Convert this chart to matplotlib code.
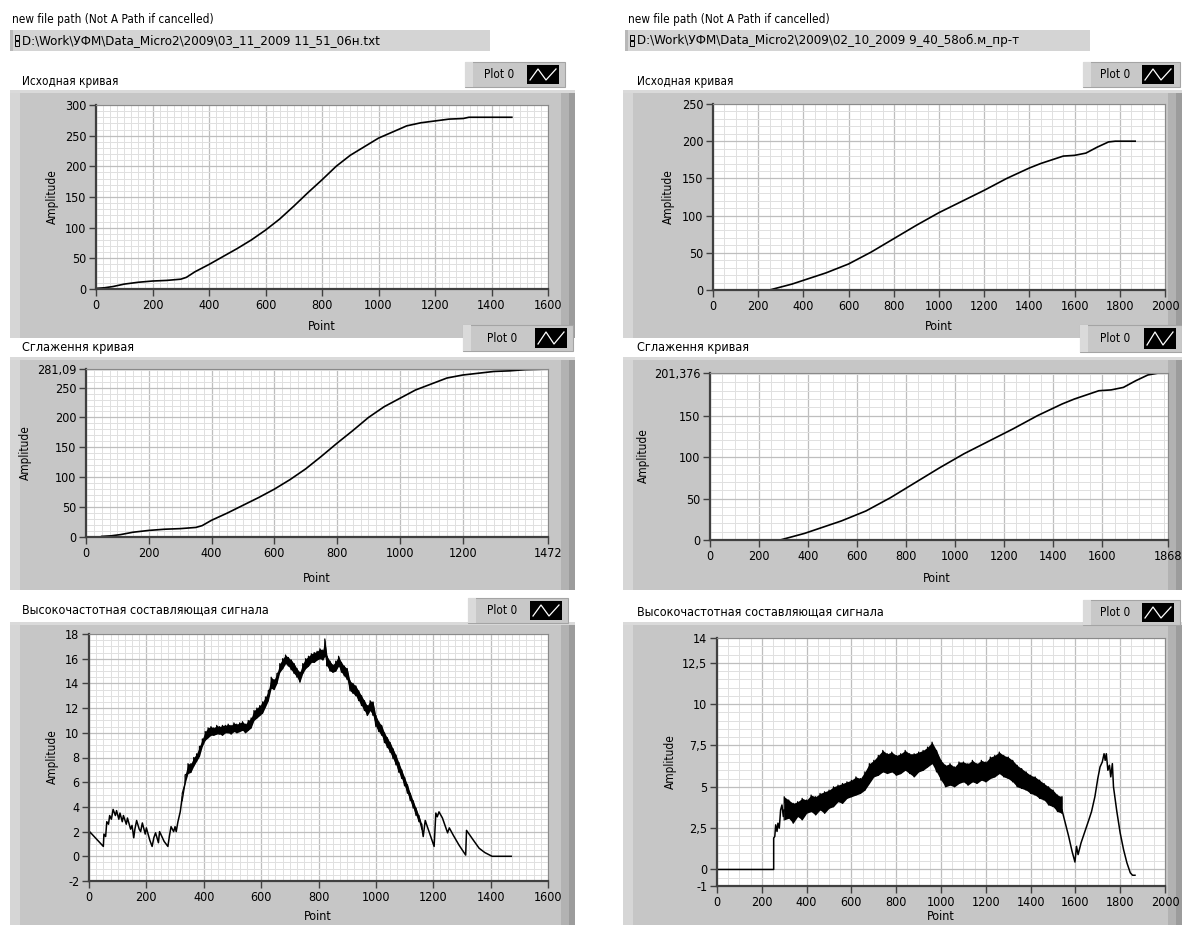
import numpy as np
import matplotlib
matplotlib.use('Agg')
import matplotlib.pyplot as plt
from matplotlib.patches import Rectangle

plt.rcParams['font.family'] = ['DejaVu Sans']
plt.rcParams['font.stretch'] = 'condensed'

W, H = 1182, 925

# --- данные ---
path_left = 'D:\\Work\\УФМ\\Data_Micro2\\2009\\03_11_2009 11_51_06н.txt'
path_right = 'D:\\Work\\УФМ\\Data_Micro2\\2009\\02_10_2009 9_40_58об.м_пр-т'

# исходная кривая, левый файл
a1_x = [0, 30, 60, 100, 150, 200, 250, 300, 320, 350, 400, 450, 500, 550, 600, 650,
        700, 750, 800, 850, 900, 950, 1000, 1050, 1100, 1150, 1200, 1250, 1300, 1320, 1400, 1472]
a1_y = [1, 2, 4, 8, 11, 13, 14, 16, 19, 28, 40, 53, 66, 80, 96, 114,
        135, 157, 178, 200, 218, 232, 246, 256, 266, 271, 274, 277, 278, 280, 280, 280]

# сглаженная кривая, левый файл
b1_x = [50, 80, 110, 150, 200, 250, 300, 350, 370, 400, 450, 500, 550, 600, 650, 700,
        750, 800, 850, 900, 950, 1000, 1050, 1100, 1150, 1200, 1250, 1300, 1350, 1400, 1472]
b1_y = [1, 2, 4, 8, 11, 13, 14, 16, 19, 28, 40, 53, 66, 80, 96, 114,
        135, 157, 178, 200, 218, 232, 246, 256, 266, 271, 274, 277, 278, 280, 281]

# высокочастотная составляющая, левый файл: начало, шумная полоса, хвост
c1_head_x = [0, 2, 50, 52, 58, 62, 68, 72, 78, 84, 92, 96, 104, 108, 116, 120, 130, 134, 145,
             150, 156, 160, 166, 175, 180, 186, 196, 200, 212, 220, 226, 232, 242, 246, 262,
             275, 280, 286, 295, 300, 304, 310, 318, 325]
c1_head_y = [0, 2.0, 0.8, 1.8, 1.6, 2.8, 2.6, 3.3, 3.0, 3.8, 3.3, 3.7, 3.0, 3.5, 2.8, 3.3, 2.6,
             3.1, 2.2, 2.5, 1.5, 2.2, 2.9, 2.2, 2.0, 2.7, 1.8, 2.3, 1.3, 0.8, 1.5, 1.9, 1.1,
             2.0, 1.2, 0.8, 1.6, 2.4, 2.0, 2.4, 2.0, 2.8, 3.6, 4.8]
c1_band_x = [325, 335, 345, 355, 365, 375, 385, 395, 405, 415,
             425, 435, 445, 455, 465, 475, 485, 495, 505, 515,
             525, 535, 545, 555, 565, 575, 585, 595, 605, 615,
             625, 635, 645, 655, 665, 675, 685, 695, 705, 715,
             725, 735, 745, 755, 765, 775, 785, 795, 805, 815,
             822, 830, 840, 850, 860, 870, 880, 890, 900, 910,
             920, 930, 940, 950, 960, 970, 980, 990, 1000, 1010,
             1020, 1030, 1040, 1050, 1060, 1070, 1080, 1090, 1100, 1110,
             1120, 1130, 1140, 1150, 1160]
c1_band_lo = [4.5, 5.9, 6.7, 6.8, 7.3, 7.7, 8.1, 8.9, 9.4, 9.6,
              9.8, 9.8, 9.9, 9.9, 9.8, 10.0, 10.0, 9.9, 10.1, 10.0,
              10.1, 10.2, 10.0, 10.2, 10.4, 11.0, 11.2, 11.4, 11.6, 12.1,
              12.6, 13.6, 13.5, 14.0, 14.9, 15.2, 15.6, 15.4, 15.1, 14.8,
              14.5, 14.1, 14.8, 15.2, 15.4, 15.7, 15.7, 15.9, 16.0, 15.9,
              16.2, 15.4, 15.0, 14.9, 15.0, 15.4, 14.9, 14.6, 14.3, 13.4,
              13.2, 13.0, 12.6, 12.2, 11.8, 11.4, 11.8, 11.4, 10.5, 10.1,
              9.8, 9.2, 8.8, 8.4, 7.9, 7.4, 6.8, 6.3, 5.7, 5.1,
              4.5, 3.9, 3.3, 2.8, 2.2]
c1_band_hi = [5.1, 6.6, 7.5, 7.5, 8.0, 8.3, 8.9, 9.5, 10.1, 10.4,
              10.5, 10.4, 10.6, 10.5, 10.6, 10.6, 10.7, 10.6, 10.8, 10.7,
              10.8, 10.9, 10.7, 11.0, 11.2, 11.8, 12.0, 12.2, 12.5, 12.9,
              13.4, 14.5, 14.3, 14.8, 15.6, 16.0, 16.3, 16.1, 15.9, 15.6,
              15.2, 14.9, 15.6, 16.0, 16.2, 16.4, 16.5, 16.6, 16.8, 16.7,
              17.6, 16.2, 15.8, 15.5, 15.8, 16.2, 15.7, 15.4, 15.2, 14.2,
              14.0, 13.8, 13.4, 13.0, 12.6, 12.2, 12.6, 12.5, 11.4, 10.9,
              10.6, 10.0, 9.6, 9.2, 8.7, 8.2, 7.6, 7.0, 6.4, 5.8,
              5.1, 4.5, 3.9, 3.3, 2.6]
c1_tail_x = [1160, 1165, 1172, 1203, 1209, 1214, 1220, 1232, 1250, 1256, 1270, 1290, 1313,
             1316, 1340, 1360, 1380, 1405, 1472]
c1_tail_y = [2.4, 1.6, 2.9, 0.8, 3.5, 3.2, 3.6, 3.1, 1.9, 2.3, 1.7, 0.9, 0.1,
             2.1, 1.3, 0.65, 0.3, 0.0, 0.0]

# исходная кривая, правый файл
a2_x = [0, 100, 200, 250, 300, 350, 400, 500, 600, 700, 800, 900, 1000, 1100, 1200, 1300,
        1400, 1450, 1500, 1550, 1600, 1650, 1700, 1750, 1780, 1868]
a2_y = [0, 0, 0, 0, 4, 8, 13, 23, 35, 51, 69, 87, 104, 119, 134, 150,
        164, 170, 175, 180, 181, 184, 192, 199, 200, 200]

# сглаженная кривая, правый файл
b2_x = [0, 100, 200, 286, 336, 386, 436, 536, 636, 736, 836, 936, 1036, 1136, 1236, 1336,
        1436, 1486, 1536, 1586, 1636, 1686, 1736, 1786, 1830, 1868]
b2_y = [0, 0, 0, 0, 4, 8, 13, 23, 35, 51, 69, 87, 104, 119, 134, 150,
        164, 170, 175, 180, 181, 184, 192, 199, 201.4, 201.4]

# высокочастотная составляющая, правый файл
c2_head_x = [0, 253, 253, 258, 262, 268, 272, 278, 284, 290, 296, 300]
c2_head_y = [0, 0, 1.9, 2.0, 2.7, 2.3, 2.8, 2.5, 3.6, 3.9, 3.2, 3.6]
c2_band_x = [300, 320, 340, 360, 380, 400, 420, 440, 460, 480,
             500, 520, 540, 560, 580, 600, 620, 640, 660, 680,
             700, 720, 740, 760, 780, 800, 820, 840, 860, 880,
             900, 920, 940, 960, 980, 1000, 1020, 1040, 1060, 1080,
             1100, 1120, 1140, 1160, 1180, 1200, 1220, 1240, 1260, 1280,
             1300, 1320, 1340, 1360, 1380, 1400, 1420, 1440, 1460, 1480,
             1500, 1520, 1540]
c2_band_lo = [3.0, 3.1, 2.8, 3.2, 3.0, 3.4, 3.5, 3.3, 3.6, 3.4,
              3.7, 3.8, 4.1, 4.0, 4.3, 4.4, 4.5, 4.6, 4.8, 5.2,
              5.6, 5.7, 5.9, 5.8, 5.9, 5.7, 5.8, 6.0, 5.8, 5.6,
              5.9, 6.0, 6.2, 6.4, 5.9, 5.4, 5.0, 5.1, 5.0, 5.2,
              5.3, 5.1, 5.3, 5.2, 5.4, 5.3, 5.5, 5.6, 5.8, 5.6,
              5.5, 5.3, 5.0, 4.9, 4.8, 4.6, 4.5, 4.3, 4.2, 3.9,
              3.8, 3.5, 3.4]
c2_band_hi = [4.4, 4.2, 4.0, 4.1, 4.3, 4.2, 4.5, 4.4, 4.6, 4.7,
              4.8, 5.0, 5.1, 5.2, 5.3, 5.4, 5.6, 5.5, 5.9, 6.4,
              6.6, 6.9, 7.2, 7.0, 7.1, 6.9, 7.0, 7.2, 7.0, 7.0,
              7.1, 7.2, 7.4, 7.7, 7.2, 6.6, 6.3, 6.4, 6.2, 6.5,
              6.5, 6.4, 6.6, 6.4, 6.6, 6.5, 6.8, 6.9, 7.1, 6.9,
              6.8, 6.6, 6.3, 6.1, 5.9, 5.7, 5.6, 5.4, 5.2, 5.0,
              4.8, 4.5, 4.4]
c2_tail_x = [1540, 1555, 1570, 1585, 1598, 1605, 1612, 1625, 1640, 1650, 1660, 1672, 1687,
             1700, 1710, 1720, 1728, 1733, 1738, 1745, 1752, 1758, 1765, 1770, 1785, 1800,
             1815, 1830, 1845, 1855, 1866]
c2_tail_y = [3.6, 2.8, 2.0, 1.1, 0.45, 1.4, 0.9, 1.6, 2.2, 2.6, 3.0, 3.5, 4.4,
             5.5, 6.2, 6.5, 7.0, 6.6, 7.0, 6.0, 6.3, 5.6, 6.4, 5.0, 3.5, 2.2,
             1.2, 0.4, -0.2, -0.35, -0.35]

title_top = 'Исходная кривая'
title_mid = 'Сглаження кривая'
title_bot = 'Высокочастотная составляющая сигнала'
path_caption = 'new file path (Not A Path if cancelled)'


fig = plt.figure(figsize=(W / 100, H / 100), dpi=100)
fig.patch.set_facecolor('white')
bg = fig.add_axes([0, 0, 1, 1])
bg.set_xlim(0, W)
bg.set_ylim(H, 0)
bg.axis('off')


def rect(x0, y0, x1, y1, fc, ec='none', lw=0, z=1):
    bg.add_patch(Rectangle((x0, y0), x1 - x0, y1 - y0, facecolor=fc,
                           edgecolor=ec, linewidth=lw, zorder=z))


def frame(x0, y0, x1, y1):
    rect(x0, y0, x1, y1, '#c6c6c6')
    rect(x0, y0, x0 + 10, y1, '#d6d6d6')
    rect(x1 - 14, y0, x1, y1, '#b2b2b2')
    rect(x1 - 6, y0, x1, y1, '#9c9c9c')
    rect(x0, y0, x1, y0 + 3, '#dadada')


def legend_box(x0, y0, x1, y1):
    rect(x0, y0, x1, y1, '#c8c8c8', ec='#a4a4a4', lw=0.8, z=3)
    rect(x0, y0, x0 + 8, y1, '#dadada', z=3)
    s0, s1 = x1 - 38, x1 - 6
    rect(s0, y0 + 3, s1, y1 - 3, 'black', z=4)
    bg.plot([s0 + 3, s0 + 11, s0 + 19, s1 - 3], [y1 - 7, y0 + 7, y1 - 7, y0 + 7],
            color='white', lw=0.9, zorder=5)
    bg.text((x0 + s0) / 2 + 3, (y0 + y1) / 2, 'Plot 0', ha='center', va='center',
            fontsize=8.5, zorder=5)


def path_box(x0, y0, x1, y1, txt):
    rect(x0, y0, x1, y1, '#d4d4d4', z=2)
    rect(x0, y0, x0 + 3, y1, '#b8b8b8', z=2)
    rect(x0 + 5, y0 + 5, x0 + 9, y0 + 10, 'none', ec='black', lw=0.7, z=3)
    rect(x0 + 5, y0 + 11, x0 + 9, y0 + 16, 'none', ec='black', lw=0.7, z=3)
    bg.text(x0 + 12, (y0 + y1) / 2, txt, ha='left', va='center', fontsize=9.5, zorder=4)


def graph(px, xlim, ylim, xt, xtl, yt, ytl, xmin_step, ymin_vals):
    x0, y0, x1, y1 = px
    ax = fig.add_axes([x0 / W, 1 - y1 / H, (x1 - x0) / W, (y1 - y0) / H])
    ax.set_facecolor('white')
    ax.set_xlim(xlim)
    ax.set_ylim(ylim)
    ax.set_xticks(xt)
    ax.set_xticklabels(xtl)
    ax.set_yticks(yt)
    ax.set_yticklabels(ytl)
    ax.set_xticks(np.arange(xlim[0], xlim[1] + 1, xmin_step), minor=True)
    ax.set_yticks(ymin_vals, minor=True)
    ax.grid(True, which='major', color='#bebebe', lw=0.9)
    ax.grid(True, which='minor', color='#e0e0e0', lw=0.7)
    ax.set_axisbelow(True)
    ax.tick_params(which='minor', length=0)
    ax.tick_params(which='major', direction='out', length=5, width=1, color='#404040',
                   labelsize=9, pad=2)
    for s in ('left', 'bottom'):
        ax.spines[s].set_color('#404040')
        ax.spines[s].set_linewidth(1.6)
    for s in ('top', 'right'):
        ax.spines[s].set_color('#8a8a8a')
        ax.spines[s].set_linewidth(0.8)
    ax.set_zorder(5)
    return ax


def band(ax, x, lo, hi):
    ax.fill_between(x, lo, hi, color='black', lw=0)
    ax.plot(np.repeat(x, 2), np.column_stack([lo, hi]).ravel(), color='black', lw=0.9)


# --- левая колонка ---
bg.text(12, 19, path_caption, fontsize=8.5, va='center')
path_box(10, 30, 490, 51, path_left)
frame(10, 90, 575, 338)
frame(10, 357, 575, 590)
frame(10, 622, 575, 930)
legend_box(465, 62, 565, 87)
legend_box(463, 325, 573, 351)
legend_box(468, 598, 568, 623)
bg.text(22, 82, title_top, fontsize=8.5, va='center', zorder=6)
bg.text(22, 348, title_mid, fontsize=9, va='center', zorder=6)
bg.text(22, 610, title_bot, fontsize=9, va='center', zorder=6)

ax = graph((96, 105, 548, 289), (0, 1600), (0, 300),
           range(0, 1601, 200), [str(v) for v in range(0, 1601, 200)],
           range(0, 301, 50), [str(v) for v in range(0, 301, 50)],
           25, np.arange(0, 301, 10))
ax.plot(a1_x, a1_y, color='black', lw=1.2)
bg.text(52, 197, 'Amplitude', rotation=90, ha='center', va='center', fontsize=8.5)
bg.text(322, 326, 'Point', ha='center', va='center', fontsize=9)

ax = graph((86, 369, 548, 537), (0, 1472), (0, 281.09),
           [0, 200, 400, 600, 800, 1000, 1200, 1472],
           ['0', '200', '400', '600', '800', '1000', '1200', '1472'],
           [0, 50, 100, 150, 200, 250, 281.09],
           ['0', '50', '100', '150', '200', '250', '281,09'],
           25, np.arange(0, 281, 10))
ax.plot(b1_x, b1_y, color='black', lw=1.2)
bg.text(25, 453, 'Amplitude', rotation=90, ha='center', va='center', fontsize=8.5)
bg.text(317, 578, 'Point', ha='center', va='center', fontsize=9)

ax = graph((89, 634, 548, 881), (0, 1600), (-2, 18),
           range(0, 1601, 200), [str(v) for v in range(0, 1601, 200)],
           range(-2, 19, 2), [str(v) for v in range(-2, 19, 2)],
           25, np.arange(-2, 18.01, 0.5))
ax.plot(c1_head_x, c1_head_y, color='black', lw=1.1)
band(ax, c1_band_x, c1_band_lo, c1_band_hi)
ax.plot(c1_tail_x, c1_tail_y, color='black', lw=1.1)
bg.text(52, 757, 'Amplitude', rotation=90, ha='center', va='center', fontsize=8.5)
bg.text(318, 916, 'Point', ha='center', va='center', fontsize=9)

# --- правая колонка ---
bg.text(628, 19, path_caption, fontsize=8.5, va='center')
path_box(625, 30, 1090, 51, path_right)
frame(623, 90, 1182, 338)
frame(623, 357, 1182, 590)
frame(623, 622, 1182, 930)
legend_box(1083, 62, 1180, 87)
legend_box(1080, 325, 1182, 352)
legend_box(1083, 600, 1180, 625)
bg.text(637, 82, title_top, fontsize=8.5, va='center', zorder=6)
bg.text(637, 348, title_mid, fontsize=9, va='center', zorder=6)
bg.text(637, 612, title_bot, fontsize=9, va='center', zorder=6)

ax = graph((713, 104, 1165, 290), (0, 2000), (0, 250),
           range(0, 2001, 200), [str(v) for v in range(0, 2001, 200)],
           range(0, 251, 50), [str(v) for v in range(0, 251, 50)],
           50, np.arange(0, 251, 10))
ax.plot(a2_x, a2_y, color='black', lw=1.2)
bg.text(668, 197, 'Amplitude', rotation=90, ha='center', va='center', fontsize=8.5)
bg.text(939, 327, 'Point', ha='center', va='center', fontsize=9)

ax = graph((710, 373, 1168, 540), (0, 1868), (0, 201.376),
           [0, 200, 400, 600, 800, 1000, 1200, 1400, 1600, 1868],
           ['0', '200', '400', '600', '800', '1000', '1200', '1400', '1600', '1868'],
           [0, 50, 100, 150, 201.376], ['0', '50', '100', '150', '201,376'],
           50, np.arange(0, 201, 10))
ax.plot(b2_x, b2_y, color='black', lw=1.2)
bg.text(643, 456, 'Amplitude', rotation=90, ha='center', va='center', fontsize=8.5)
bg.text(937, 578, 'Point', ha='center', va='center', fontsize=9)

ax = graph((717, 638, 1165, 886), (0, 2000), (-1, 14),
           range(0, 2001, 200), [str(v) for v in range(0, 2001, 200)],
           [-1, 0, 2.5, 5, 7.5, 10, 12.5, 14],
           ['-1', '0', '2,5', '5', '7,5', '10', '12,5', '14'],
           50, np.arange(-1, 14.01, 0.5))
ax.plot(c2_head_x, c2_head_y, color='black', lw=1.1)
band(ax, c2_band_x, c2_band_lo, c2_band_hi)
ax.plot(c2_tail_x, c2_tail_y, color='black', lw=1.1)
bg.text(670, 762, 'Amplitude', rotation=90, ha='center', va='center', fontsize=8.5)
bg.text(941, 916, 'Point', ha='center', va='center', fontsize=9)

fig.savefig('out.png', dpi=100)
